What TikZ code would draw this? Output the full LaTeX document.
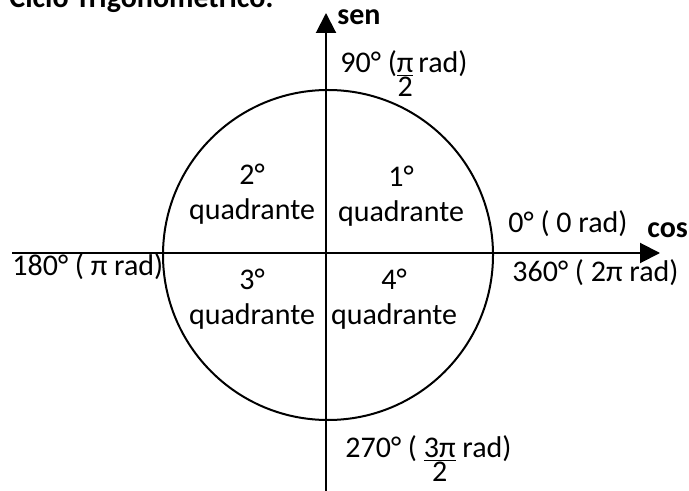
\documentclass[tikz,border=0pt]{standalone}
\usepackage{fontspec}
\setmainfont{Carlito}
\usetikzlibrary{arrows.meta, positioning}
\tikzset{
	axisline/.style={line width=1pt, -{Triangle[length=10pt, width=10pt]}}
}
\tikzset{
	axislabel/.style={font=\fontsize{15}{18}\selectfont\bfseries, anchor=base west, inner sep=0pt}
}
\tikzset{
	anglelabel/.style={font=\fontsize{15}{18}\selectfont, anchor=base west, inner sep=0pt}
}
\tikzset{
	quadlabel/.style={font=\fontsize{15}{17.5}\selectfont, align=center, inner sep=0pt}
}
\newcommand{\wordfrac}[2]{\begin{tabular}[t]{@{}c@{}}\underline{#1}\\[-6pt]#2\end{tabular}}

\begin{document}
\begin{tikzpicture}[x=0.5pt, y=-0.5pt]

	\useasboundingbox (0,0) rectangle (689,491);

	\node[axislabel] (title) at (9,8) {Ciclo Trigonométrico:};

	\begin{scope}
		\coordinate (west) at (12,253);
		\coordinate (east) at (660,253);
		\coordinate (south) at (326,491);
		\coordinate (north) at (326,13);

		\node[circle, draw, line width=1pt, minimum size=165pt, inner sep=0pt, outer sep=0pt] (ciclo) at (328,255) {};

		\draw[axisline] (west) -- (east);
		\draw[axisline] (south) -- (north);
	\end{scope}

	\begin{scope}
		\node[axislabel] (sen) at (337,25) {sen};
		\node[axislabel] (cos) at (647,238) {cos};

		\node[anglelabel] (a90) at (340,73) {90° (\wordfrac{π}{2}\,rad)};
		\node[anglelabel] (a0) at (508,233) {0° ( 0 rad)};
		\node[anglelabel] (a360) at (512,282) {360° ( 2π rad)};
		\node[anglelabel] (a180) at (12,276) {180° ( π rad)};
		\node[anglelabel] (a270) at (345,457) {270° ( \wordfrac{3π}{2} rad)};
	\end{scope}

	\node[quadlabel] (q1) at (401,196) {1°\\quadrante};
	\node[quadlabel] (q2) at (252,194) {2°\\quadrante};
	\node[quadlabel] (q3) at (252,299) {3°\\quadrante};
	\node[quadlabel] (q4) at (394,299) {4°\\quadrante};

\end{tikzpicture}
\end{document}
